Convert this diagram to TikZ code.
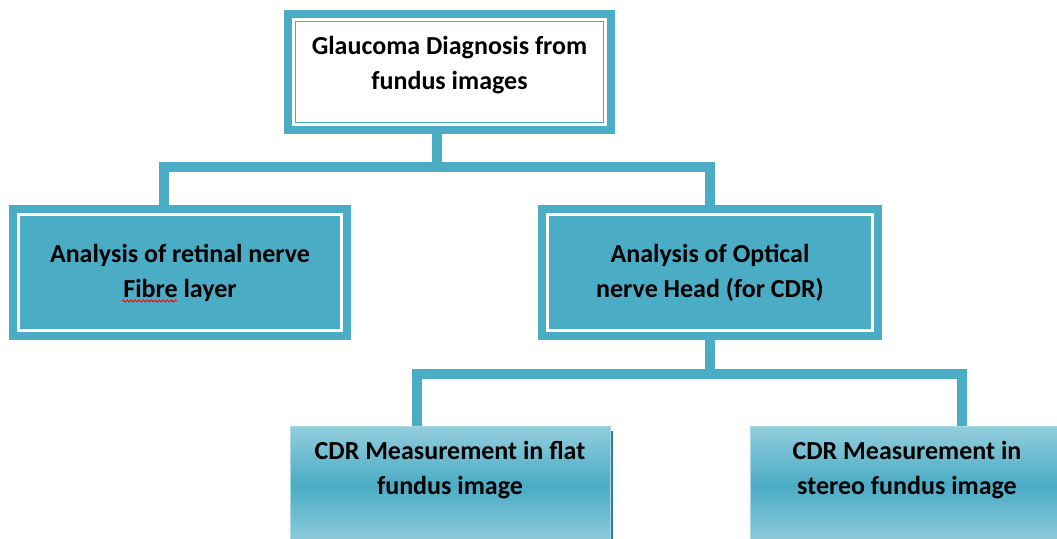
\documentclass[tikz,border=0pt]{standalone}
\usepackage{fontspec}
\setmainfont{Carlito}
\usetikzlibrary{decorations.pathmorphing,backgrounds}
\definecolor{accentblue}{HTML}{4BACC6}
\definecolor{paleblue}{HTML}{93CDDD}
\definecolor{edgeblue}{HTML}{A9D9E6}
\definecolor{shadowblue}{HTML}{2F8198}
\begin{document}
\begin{tikzpicture}[x=1pt,y=-1pt,
  conn/.style={draw=accentblue, line width=10pt, line join=miter},
  solidbox/.style={rectangle, fill=accentblue, inner sep=0pt, outer sep=0pt},
  gradbox/.style={rectangle, inner sep=0pt, outer sep=0pt,
    top color=paleblue, bottom color=paleblue, middle color=accentblue,
    draw=edgeblue, line width=1pt, minimum width=320pt, minimum height=119pt},
  boxtext/.style={font=\bfseries\fontsize{26}{35}\selectfont, align=center,
    text=black, inner sep=0pt}
]
\useasboundingbox (0,0) rectangle (1057,538);

% root box with double frame
\node[solidbox, minimum width=331pt, minimum height=124pt] (root) at (449.5,72) {};
\fill[white] ([shift={(8pt,-8pt)}]root.north west) rectangle ([shift={(-8pt,8pt)}]root.south east);
\draw[accentblue, line width=1.5pt] ([shift={(11.5pt,-11.5pt)}]root.north west) rectangle ([shift={(-11.5pt,11.5pt)}]root.south east);
\node[boxtext] (roottext) at ([yshift=7pt]root.center) {Glaucoma Diagnosis from\\fundus images};

% second level boxes
\node[solidbox, minimum width=342pt, minimum height=135pt] (rnfl) at (180,272.5) {};
\draw[white, line width=3pt] ([shift={(9.5pt,-9.5pt)}]rnfl.north west) rectangle ([shift={(-9.5pt,9.5pt)}]rnfl.south east);
\node[boxtext] (rnfltext) at (rnfl.center) {Analysis of retinal nerve\\Fibre layer};

\node[solidbox, minimum width=344pt, minimum height=135pt] (onh) at (710,272.5) {};
\draw[white, line width=3pt] ([shift={(9.5pt,-9.5pt)}]onh.north west) rectangle ([shift={(-9.5pt,9.5pt)}]onh.south east);
\node[boxtext] (onhtext) at (onh.center) {Analysis of Optical\\nerve Head (for CDR)};

% spelling mark under "Fibre"
\draw[red, line width=0.8pt, decorate, decoration={snake, amplitude=1.1pt, segment length=4pt}]
  (122,301) -- (177,301);

% third level boxes
\node[gradbox] (flat) at (450,485.5) {};
\node[gradbox] (stereo) at (910,485.5) {};
\begin{scope}[on background layer]
  \fill[shadowblue] ([shift={(2.5pt,-5pt)}]flat.north west) rectangle ([shift={(2.5pt,-5pt)}]flat.south east);
  \fill[shadowblue] ([shift={(2.5pt,-5pt)}]stereo.north west) rectangle ([shift={(2.5pt,-5pt)}]stereo.south east);
\end{scope}
\node[boxtext] (flattext) at (450,470) {CDR Measurement in flat\\fundus image};
\node[boxtext] (stereotext) at (907,470) {CDR Measurement in\\stereo fundus image};

% connectors
\coordinate (j1) at (437,167);
\coordinate (d1) at (164,0);
\draw[conn] (j1 |- root.south) -- (j1);
\draw[conn] (d1 |- rnfl.north) |- (j1) -| (onh.north);

\coordinate (j2) at (710,374);
\coordinate (d2) at (417,0);
\coordinate (d3) at (962,0);
\draw[conn] (onh.south) -- (j2);
\draw[conn] (d2 |- flat.north) |- (j2) -| (d3 |- stereo.north);
\end{tikzpicture}
\end{document}
